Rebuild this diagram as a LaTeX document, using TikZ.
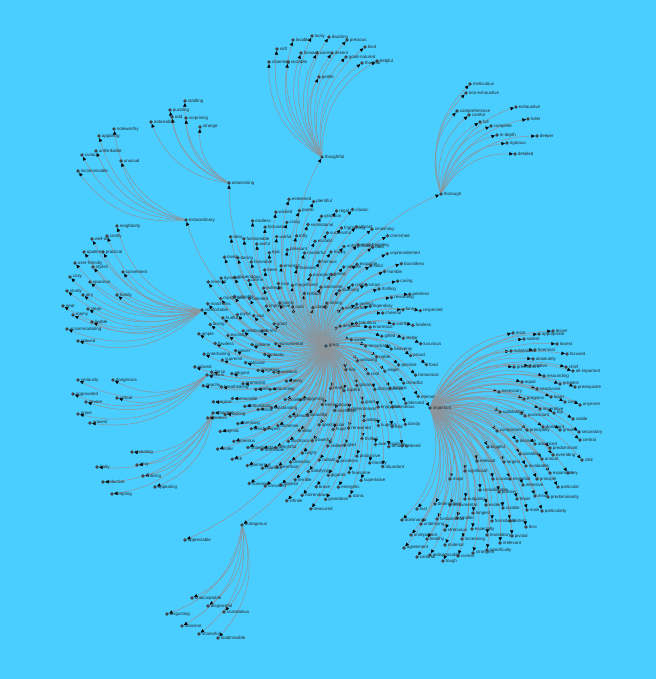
\documentclass[tikz,border=0pt]{standalone}
\usepackage{fontspec}
\setsansfont{Liberation Sans}
\usetikzlibrary{arrows.meta, backgrounds}

\definecolor{skyback}{RGB}{74,205,255}
\definecolor{linkgray}{RGB}{142,148,154}
\definecolor{dotgray}{RGB}{64,68,72}

% Grupos: nombre/x/y
\newcommand{\hubwords}{thoughtful/322/157, astonishing/229/183, extraordinary/186/220,
    thorough/441/194, important/430/408, outrageous/242/525,
    comfortable/202/310, serious/207/375, attractive/213/413, appreciable/185/540}

% Hojas de cada grupo: x/y/palabra
\newcommand{\leafwords}{
    thoughtful/{293/40/lovable, 312/36/lucky, 329/37/dazzling, 347/40/precious, 277/49/soft,
        365/47/kind, 301/53/forward, 317/53/warm, 332/53/decent, 346/57/good-natured,
        377/61/helpful, 362/63/thankful, 269/62/charming, 288/62/sociable, 319/77/gentle},
    astonishing/{185/101/startling, 170/110/puzzling, 186/118/surprising, 172/117/odd,
        151/122/noticeable, 200/127/strange},
    extraordinary/{114/129/noteworthy, 99/136/appalling, 96/151/unthinkable, 82/155/curious,
        121/161/unusual, 78/171/inconceivable},
    thorough/{470/84/meticulous, 466/93/non-exhaustive, 516/107/exhaustive, 457/111/comprehensive,
        469/115/careful, 528/119/fuller, 480/122/full, 491/126/complete, 497/135/in-depth,
        537/136/deeper, 507/143/rigorous, 515/154/detailed},
    outrageous/{192/598/unacceptable, 208/606/disgraceful, 224/612/scandalous, 167/614/disgusting,
        182/626/obscene, 199/634/shameful, 218/638/inadmissible},
    comfortable/{117/226/neighborly, 92/239/well-off, 107/236/comfy, 84/252/opulent,
        103/252/practical, 75/263/user-friendly, 93/267/stylish, 123/272/convenient, 70/277/cozy,
        90/282/spacious, 67/291/sturdy, 83/295/airy, 117/295/handy, 63/306/neat, 88/309/clean,
        73/315/roomy, 67/329/accommodating, 92/322/livable, 78/341/relaxed},
    serious/{78/380/seriously, 113/380/dangerous, 73/394/aggravated, 86/402/severe,
        117/398/critical, 78/414/grave, 90/423/gravest},
    attractive/{132/452/revealing, 97/467/lively, 137/465/sexy, 143/476/enticing,
        103/482/seductive, 155/487/appealing, 112/494/tempting},
    important/{513/333/most, 539/334/appropriate, 553/331/lesser, 524/339/salient, 557/344/lowest,
        511/351/substantive, 535/350/foremost, 567/354/focused, 533/359/absolutely,
        514/367/preeminent, 530/366/relative, 566/367/chief, 573/371/all-important,
        544/376/resounding, 522/382/equal, 560/384/greatest, 575/387/prerequisite,
        499/392/necessary, 537/389/conclusive, 551/397/lower, 565/402/core, 580/405/anymore,
        524/399/progress, 540/409/imperative, 554/413/top, 573/419/viable, 500/412/substantial,
        525/416/paramount, 497/431/component, 527/430/principally, 543/427/dominant,
        560/430/growth, 579/432/secondary, 517/441/decisive, 535/444/advanced,
        550/448/predominant, 580/440/central, 488/447/biggest, 520/454/sizeable, 542/459/annual,
        553/455/overriding, 582/460/vital, 477/461/relevant, 504/462/largest, 526/466/invaluable,
        550/473/expansion, 568/473/key, 465/471/significant, 450/479/major, 493/479/crucial,
        510/479/essential, 537/479/principle, 523/485/intensive, 558/487/particular,
        480/490/considerable, 499/492/primary, 517/499/fewer, 535/496/minor,
        548/497/predominantly, 465/499/outgoing, 450/505/instrumental, 435/504/determining,
        486/505/evident, 503/508/sizable, 417/509/fast, 527/510/main, 542/511/particularly,
        473/513/longest, 457/518/smaller, 437/519/fundamental, 402/520/dominance,
        492/521/formidable, 510/521/distinct, 421/524/underlying, 526/527/less,
        445/530/strenuous, 472/529/especially, 487/535/mandatory, 512/536/pivotal,
        411/535/unimportant, 427/539/healthy, 462/539/increasing, 500/543/irrelevant,
        445/545/material, 404/548/agreement, 487/550/specifically, 473/553/strongest,
        458/556/current, 430/555/indispensable, 417/557/cardinal, 443/561/tough}}

% Nube central
\newcommand{\greatwords}{cheery, classy, really, monumental, delicious, staggering, cute, fine,
    marvelous, strong, tremendous, good, sweet, excellent, brilliant, superb, fantastic,
    wonderful, beautiful, lovely, amazing, astounding, awesome, incredible, terrific, fabulous,
    splendid, magnificent, glorious, gorgeous, stunning, spectacular, impressive, remarkable,
    outstanding, exceptional, phenomenal, sublime, perfect, ideal, nice, cool, swell, grand,
    huge, vast, enormous, immense, massive, giant, colossal, mighty, powerful, extreme, noble,
    heroic, famous, renowned, celebrated, legendary, illustrious, eminent, distinguished,
    prominent, notable, skilled, talented, gifted, expert, masterful, adept, clever, smart,
    bright, keen, eager, enthusiastic, happy, glad, joyful, cheerful, delightful, pleasant,
    enjoyable, elegant, exquisite, radiant, divine, heavenly, blissful, ecstatic, thrilled,
    exciting, thrilling, dramatic, epic, historic, memorable, unforgettable, priceless,
    valuable, worthy, admirable, lofty, superior, supreme, solid, satisfying, favorable,
    positive, promising, successful, productive, fruitful, rewarding, beneficial, useful,
    wondrous, breathtaking, mind-boggling, gigantic, stupendous, stellar, unbelievable,
    sensational, awe-inspiring, flawless, horrible, terrible, awful, dreadful, shocking,
    frightening, fearsome, mysterious, funny, hilarious, crazy, wild, fierce, bold, brave,
    daring, proud, generous, gracious, friendly, loving, caring, hopeful, fortunate, blessed,
    magical, vibrant, energetic, dynamic, fearless, glamorous, poetic, amusing, entertaining,
    unprecedented, horrendous, fashionable, fantastical, majestic, regal, superlative,
    matchless, peerless, unrivaled, wicked, dandy, peachy, smashing, grandiose, lavish,
    luxurious, rich, plentiful, abundant, ample, boundless, infinite, endless, eternal,
    timeless, classic, iconic, revered, respected, honored, esteemed, beloved, adored,
    cherished, treasured, dear, fond, tender}

\begin{document}
\begin{tikzpicture}[
        x=0.03cm, y=-0.03cm,
        % Nodos (palabras)
        word/.style={
                circle,
                fill=dotgray,
                inner sep=0pt,
                minimum size=3.2pt
            },
        wordtext/.style={
                font=\sffamily\fontsize{3.8}{4.2}\selectfont,
                text=black!85,
                inner sep=0.4pt
            },
        % Enlaces
        link/.style={
                draw=linkgray,
                line width=0.45pt,
                bend left=30,
                -{Triangle[length=3pt,width=2.8pt,color=black]}
            }
    ]

    % Fondo
    \useasboundingbox (0,0) rectangle (656,679);
    \begin{scope}[on background layer]
        \fill[skyback] (0,0) rectangle (656,679);
    \end{scope}

    % Palabra central
    \node[word, label={[wordtext]right:great}] (great) at (326,346) {};

    % Grupos
    \foreach \n/\x/\y in \hubwords {
        \node[word, label={[wordtext]right:\n}] (\n) at (\x,\y) {};
    }

    % Hojas
    \foreach \hub/\leaves in \leafwords {
        \foreach \x/\y/\t [count=\i] in \leaves {
            \node[word, label={[wordtext]right:\t}] (\hub-\i) at (\x,\y) {};
        }
    }

    % Nube central
    \foreach \t [count=\i] in \greatwords {
        \pgfmathsetmacro{\ang}{360*mod(\i*0.381966,1)}
        \pgfmathsetmacro{\rad}{sqrt(0.07+0.93*\i/200)}
        \node[word, label={[wordtext]right:\t}] (great-\i)
            at ({310+117*\rad*cos(\ang)},{352+158*\rad*sin(\ang)}) {};
    }

    % Enlaces
    \begin{scope}[on background layer]
        \foreach \n/\x/\y in \hubwords {
            \draw[link] (great) to (\n);
        }
        \foreach \hub/\leaves in \leafwords {
            \foreach \x/\y/\t [count=\i] in \leaves {
                \draw[link] (\hub) to (\hub-\i);
            }
        }
        \foreach \i in {1,...,200} {
            \draw[link] (great) to (great-\i);
        }
    \end{scope}

\end{tikzpicture}
\end{document}
